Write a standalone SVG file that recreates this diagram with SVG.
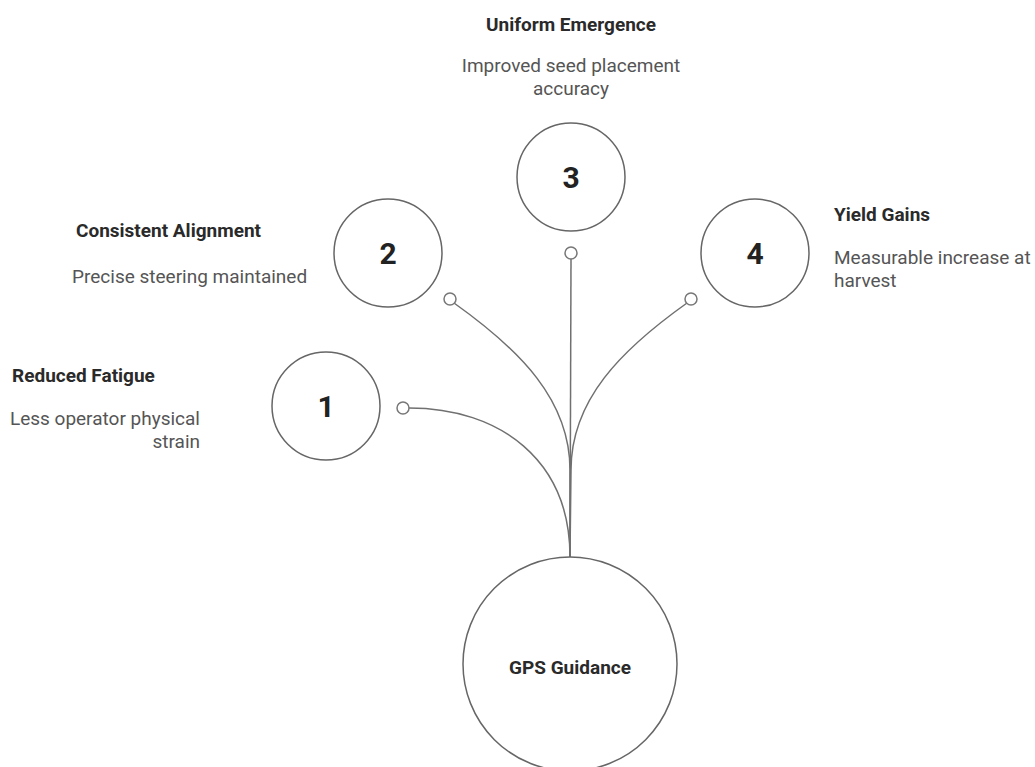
<svg xmlns="http://www.w3.org/2000/svg" width="1035" height="767" viewBox="0 0 1035 767">
<style>
.node{fill:#fff;stroke:#666;stroke-width:1.5}
.dot{fill:#fff;stroke:#777;stroke-width:1.5}
.conn{fill:none;stroke:#707070;stroke-width:1.5}
.num{font-family:Roboto,"Liberation Sans",sans-serif;font-weight:700;font-size:30px;fill:#222;text-anchor:middle}
.title{font-family:Roboto,"Liberation Sans",sans-serif;font-weight:700;font-size:19px;fill:#2a2a2a}
.desc{font-family:Roboto,"Liberation Sans",sans-serif;font-size:19px;fill:#555}
.center{font-family:Roboto,"Liberation Sans",sans-serif;font-weight:700;font-size:19px;fill:#2a2a2a;text-anchor:middle}
</style>
<rect width="1035" height="767" fill="#fff"/>
<g id="connectors">
<path class="conn" d="M409,408 C500,408 570,460 570,557"/>
<path class="conn" d="M454,303 C520,350 570,400 570,470 L570,557"/>
<path class="conn" d="M571,259 L570,557"/>
<path class="conn" d="M687,303 C621,350 571,400 571,470 L570,557"/>
<circle class="dot" cx="403" cy="408" r="6"/>
<circle class="dot" cx="450" cy="299" r="6"/>
<circle class="dot" cx="571" cy="253" r="6"/>
<circle class="dot" cx="691" cy="299" r="6"/>
</g>
<g id="gps">
<circle class="node" cx="570" cy="664" r="107"/>
<text class="center" x="570" y="674">GPS Guidance</text>
</g>
<g id="node1">
<circle class="node" cx="326" cy="406" r="54"/>
<text class="num" x="326" y="417">1</text>
<text class="title" x="12" y="382">Reduced Fatigue</text>
<text class="desc" x="200" y="425" text-anchor="end">Less operator physical</text>
<text class="desc" x="200" y="448" text-anchor="end">strain</text>
</g>
<g id="node2">
<circle class="node" cx="388" cy="253" r="54"/>
<text class="num" x="388" y="264">2</text>
<text class="title" x="76" y="237">Consistent Alignment</text>
<text class="desc" x="72" y="283">Precise steering maintained</text>
</g>
<g id="node3">
<circle class="node" cx="571" cy="177" r="54"/>
<text class="num" x="571" y="188">3</text>
<text class="title" x="571" y="31" text-anchor="middle">Uniform Emergence</text>
<text class="desc" x="571" y="72" text-anchor="middle">Improved seed placement</text>
<text class="desc" x="571" y="95" text-anchor="middle">accuracy</text>
</g>
<g id="node4">
<circle class="node" cx="755" cy="253" r="54"/>
<text class="num" x="755" y="264">4</text>
<text class="title" x="834" y="221">Yield Gains</text>
<text class="desc" x="834" y="264">Measurable increase at</text>
<text class="desc" x="834" y="287">harvest</text>
</g>
</svg>
